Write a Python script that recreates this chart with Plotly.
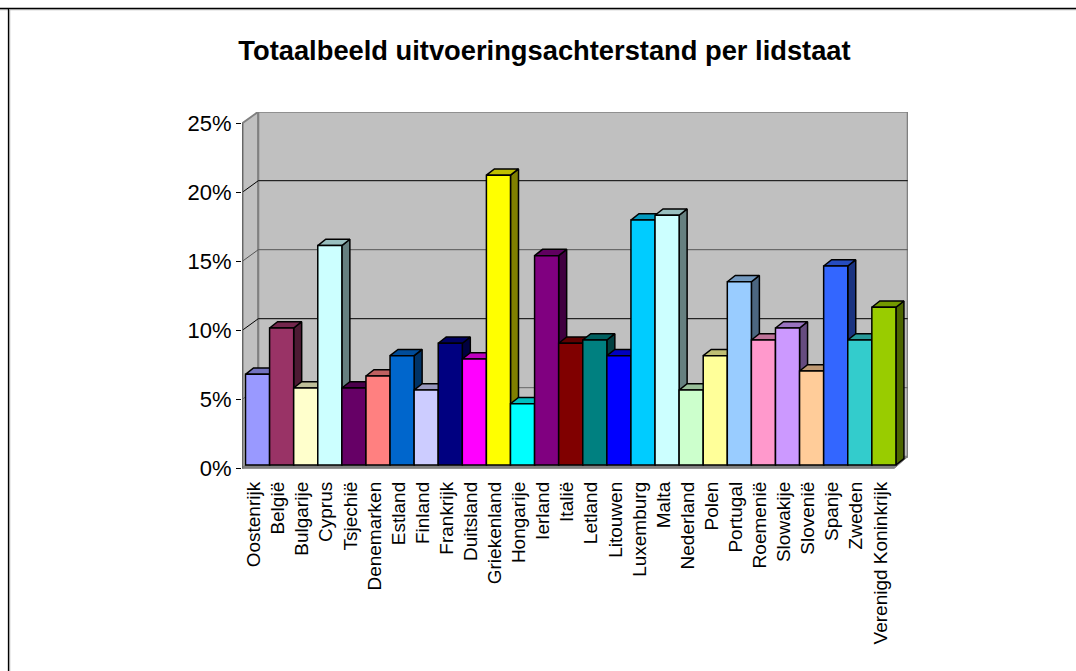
import plotly.graph_objects as go

title = "Totaalbeeld uitvoeringsachterstand per lidstaat"
landen = ["Oostenrijk", "België", "Bulgarije", "Cyprus", "Tsjechië", "Denemarken", "Estland",
          "Finland", "Frankrijk", "Duitsland", "Griekenland", "Hongarije", "Ierland", "Italië",
          "Letland", "Litouwen", "Luxemburg", "Malta", "Nederland", "Polen", "Portugal",
          "Roemenië", "Slowakije", "Slovenië", "Spanje", "Zweden", "Verenigd Koninkrijk"]
waarden = [6.57, 9.93, 5.58, 15.9, 5.58, 6.45, 7.92, 5.43, 8.82, 7.68, 21.0, 4.44, 15.17, 8.82,
           9.06, 7.92, 17.75, 18.1, 5.43, 7.92, 13.28, 9.06, 9.93, 6.81, 14.42, 9.06, 11.43]
kleuren = ["#9999FF", "#993366", "#FFFFCC", "#CCFFFF", "#660066", "#FF8080", "#0066CC", "#CCCCFF",
           "#000080", "#FF00FF", "#FFFF00", "#00FFFF", "#800080", "#800000", "#008080", "#0000FF",
           "#00CCFF", "#CCFFFF", "#CCFFCC", "#FFFF99", "#99CCFF", "#FF99CC", "#CC99FF", "#FFCC99",
           "#3366FF", "#33CCCC", "#99CC00"]
y_ticks = [0, 5, 10, 15, 20, 25]
y_labels = ["0%", "5%", "10%", "15%", "20%", "25%"]
grid_kleur = {0: "#808080", 5: "#666666", 10: "#000000", 15: "#555555", 20: "#000000", 25: "#808080"}

W, H = 1076, 671
L, R, T, B = 242, 908, 112, 470
PX_X, PX_Y = 24.09, 13.8
x_range = [-0.5 - (245.5 - L) / PX_X, -0.5 + (R - 245.5) / PX_X]
y_range = [-(B - 465) / PX_Y, (465 - T) / PX_Y]

dx_bar, dy_bar = 8 / PX_X, 6.3 / PX_Y
dx_wall, dy_wall = 16 / PX_X, 11.6 / PX_Y
xa = x_range[0] + 0.3 / PX_X
xe = xa + 652 / PX_X
xb = xa + dx_wall
xr = xe + 13.4 / PX_X
y0 = -3.3 / PX_Y


def mix(c, f):
    r, g, b = int(c[1:3], 16), int(c[3:5], 16), int(c[5:7], 16)
    return f"rgb({round(r*f)},{round(g*f)},{round(b*f)})"


def poly(xs, ys, fill, line, w=1.5):
    return go.Scatter(x=xs + xs[:1], y=ys + ys[:1], mode="lines", fill="toself", fillcolor=fill,
                      line=dict(color=line, width=w), hoverinfo="skip", showlegend=False,
                      cliponaxis=False)


fig = go.Figure()
# walls and floor
fig.add_trace(poly([xa, xa, xb, xb], [y0, y0 + 25, y0 + 25 + dy_wall, y0 + dy_wall], "#C0C0C0", "#808080", 2))
fig.add_trace(poly([xb, xb, xr, xr], [y0 + dy_wall, y0 + 25 + dy_wall, y0 + 25 + dy_wall, y0 + dy_wall], "#C0C0C0", "#808080", 2))
fig.add_trace(poly([xa, xe, xr, xb], [y0, y0, y0 + dy_wall, y0 + dy_wall], "#808080", "#808080", 1))
# gridlines
for v in y_ticks[1:-1]:
    fig.add_trace(go.Scatter(x=[xa, xb, xr], y=[y0 + v, y0 + v + dy_wall, y0 + v + dy_wall], mode="lines",
                             line=dict(color=grid_kleur[v], width=1), hoverinfo="skip", showlegend=False))
fig.add_trace(go.Scatter(x=[xa, xa], y=[y0, y0 + 25], mode="lines", line=dict(color="#666666", width=2),
                         hoverinfo="skip", showlegend=False, cliponaxis=False))
# depth faces
for i, (v, c) in enumerate(zip(waarden, kleuren)):
    l, r = i - 0.5, i + 0.5
    fig.add_trace(poly([r, r + dx_bar, r + dx_bar, r], [0, dy_bar, v + dy_bar, v], mix(c, 0.5), "#000000"))
    fig.add_trace(poly([l, l + dx_bar, r + dx_bar, r], [v, v + dy_bar, v + dy_bar, v], mix(c, 0.75), "#000000"))
# front faces
fig.add_trace(go.Bar(x=list(range(len(landen))), y=waarden, width=1, marker=dict(color=kleuren, line=dict(color="#000000", width=1.5)),
                     zorder=1, hoverinfo="skip", showlegend=False))

fig.update_layout(
    width=W, height=H, autosize=False, margin=dict(l=L, r=W - R, t=T, b=H - B),
    paper_bgcolor="#FFFFFF", plot_bgcolor="#FFFFFF", showlegend=False,
    font=dict(family="Liberation Sans, Arial, sans-serif", color="#000000"),
    title=dict(text=f"<b>{title}</b>", x=544.5 / W, xanchor="center", y=1 - 50 / H, yanchor="middle",
               font=dict(size=27.3, color="#000000")),
    xaxis=dict(range=x_range, tickvals=[i - 3.5 / PX_X for i in range(len(landen))], ticktext=landen,
               tickangle=-90, ticklen=0, showgrid=False, zeroline=False, showline=False,
               tickfont=dict(size=19), ticklabelstandoff=7),
    yaxis=dict(range=y_range, tickvals=[v + y0 for v in y_ticks], ticktext=y_labels, ticks="outside", ticklen=5,
               tickcolor="#000000", tickwidth=1, showgrid=False, zeroline=False, showline=False,
               tickfont=dict(size=22), ticklabelstandoff=0),
    shapes=[
        dict(type="line", xref="paper", yref="paper", x0=-L / (R - L), x1=(W - L) / (R - L), y0=(B - 8.5) / (B - T), y1=(B - 8.5) / (B - T), line=dict(color="#000000", width=1.3)),
        dict(type="line", xref="paper", yref="paper", x0=-L / (R - L), x1=(W - L) / (R - L), y0=(B - 9.7) / (B - T), y1=(B - 9.7) / (B - T), line=dict(color="#999999", width=1)),
        dict(type="line", xref="paper", yref="paper", x0=-233.5 / (R - L), x1=-233.5 / (R - L), y0=-(H - B) / (B - T), y1=(B - 8) / (B - T), line=dict(color="#000000", width=1.3)),
        dict(type="line", xref="paper", yref="paper", x0=-232.3 / (R - L), x1=-232.3 / (R - L), y0=-(H - B) / (B - T), y1=(B - 9) / (B - T), line=dict(color="#999999", width=1)),
    ],
)
fig.write_html("out.html", config={"displayModeBar": False},
               post_script="document.body.style.margin='0';document.body.style.overflow='hidden';")
